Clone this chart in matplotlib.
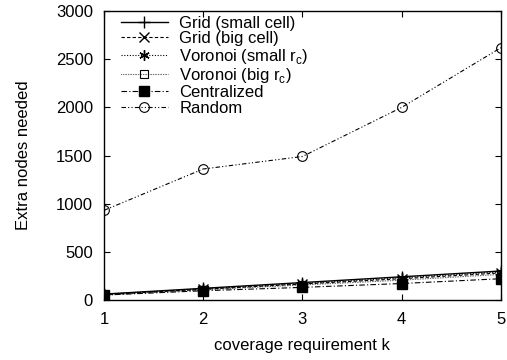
import matplotlib
matplotlib.use("Agg")
import matplotlib.pyplot as plt

plt.rcParams['font.family'] = ['Liberation Sans', 'DejaVu Sans']

k = [1, 2, 3, 4, 5]
grid_small = [60, 120, 180, 240, 300]
grid_big = [55, 110, 165, 220, 280]
voronoi_small = [60, 115, 170, 230, 290]
voronoi_big = [50, 105, 155, 205, 265]
centralized = [50, 95, 130, 170, 220]
random_nodes = [930, 1360, 1490, 2000, 2620]

fig = plt.figure(figsize=(5.07, 3.6), dpi=100)
ax = fig.add_axes([0.205, 0.167, 0.783, 0.802])

ax.plot(k, grid_small, color="black", lw=1, ls="-", marker="+", ms=8.5, mew=1,
        label="Grid (small cell)")
ax.plot(k, grid_big, color="black", lw=0.8, ls=(0, (3, 2)), marker="x", ms=6.5, mew=1,
        label="Grid (big cell)")
ax.plot(k, voronoi_small, color="black", lw=0.8, ls=(0, (1, 1.5)), marker=(6, 2, 0), ms=7.5, mew=1,
        label="Voronoi (small r$_\\mathregular{c}$)")
ax.plot(k, voronoi_big, color="black", lw=0.8, ls=(0, (0.5, 1)), marker="s", ms=6, mew=0.8,
        mfc="none", label="Voronoi (big r$_\\mathregular{c}$)")
ax.plot(k, centralized, color="black", lw=0.8, ls=(0, (5, 2, 1, 2)), marker="s", ms=7,
        label="Centralized")
ax.plot(k, random_nodes, color="black", lw=0.8, ls=(0, (4, 2, 1, 2, 1, 2)), marker="o", ms=7,
        mew=0.8, mfc="none", label="Random")

ax.set_xlim(1, 5)
ax.set_ylim(0, 3000)
ax.set_xticks(k)
ax.set_yticks([0, 500, 1000, 1500, 2000, 2500, 3000])
ax.tick_params(direction="in", top=True, right=True, labelsize=12, length=4)
ax.tick_params(axis="x", pad=9)
ax.tick_params(axis="y", pad=8)
ax.set_xlabel("coverage requirement k", fontsize=12, labelpad=8)
ax.set_ylabel("Extra nodes needed", fontsize=12, labelpad=18)
for s in ax.spines.values():
    s.set_linewidth(1)

ax.legend(loc="upper left", bbox_to_anchor=(0.035, 0.995), frameon=False, fontsize=12,
          handlelength=2.8, labelspacing=0.02, borderaxespad=0.0, borderpad=0.2,
          handletextpad=0.7)

fig.savefig("out.png", dpi=100)
